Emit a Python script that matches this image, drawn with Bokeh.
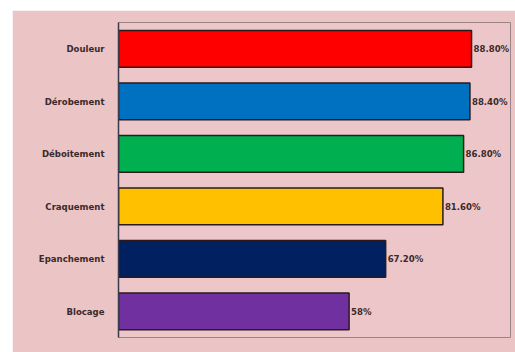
from bokeh.plotting import figure
from bokeh.models import ColumnDataSource, Range1d
from bokeh.core.properties import value
from bokeh.embed import file_html
from bokeh.resources import INLINE

categories = ["Douleur", "Dérobement", "Déboitement", "Craquement", "Epanchement", "Blocage"]
values = [88.8, 88.4, 86.8, 81.6, 67.2, 58.0]
value_labels = ["88.80%", "88.40%", "86.80%", "81.60%", "67.20%", "58%"]
colors = ["#ff0000", "#0070c0", "#00b050", "#ffc000", "#002060", "#7030a0"]

FONT = "'DejaVu Sans Condensed', 'Roboto', sans-serif"

src = ColumnDataSource(dict(cat=categories, val=values, lab=value_labels, col=colors))

p = figure(width=503, height=342, output_backend="svg", toolbar_location=None,
           y_range=list(reversed(categories)), x_range=Range1d(0, 98.6),
           min_border_left=106, min_border_right=5, min_border_top=12, min_border_bottom=15,
           margin=(10, 0, 0, 12))

p.background_fill_color = "#edc6c9"
p.border_fill_color = "#ebc4c6"
p.outline_line_color = "#9a8486"
p.outline_line_width = 1

p.hbar(y="cat", right="val", left=0, height=0.7, fill_color="col",
       line_color="#2a1a1a", line_width=1.5, source=src)

p.text(x="val", y="cat", text="lab", source=src, x_offset=2,
       text_font=value(FONT), text_font_size="9.5px",
       text_font_style="bold", text_color="#3a2a2a", text_baseline="middle")

p.xaxis.visible = False
p.xgrid.visible = False
p.ygrid.visible = False
ax = p.yaxis[0]
ax.major_tick_line_color = None
ax.minor_tick_line_color = None
ax.axis_line_color = "#3a3a4a"
ax.axis_line_width = 1.5
ax.major_label_text_font = FONT
ax.major_label_text_font_size = "9.5px"
ax.major_label_text_font_style = "bold"
ax.major_label_text_color = "#3a2a2a"
ax.major_label_standoff = 8

open("out.html", "w").write(file_html(p, INLINE))
